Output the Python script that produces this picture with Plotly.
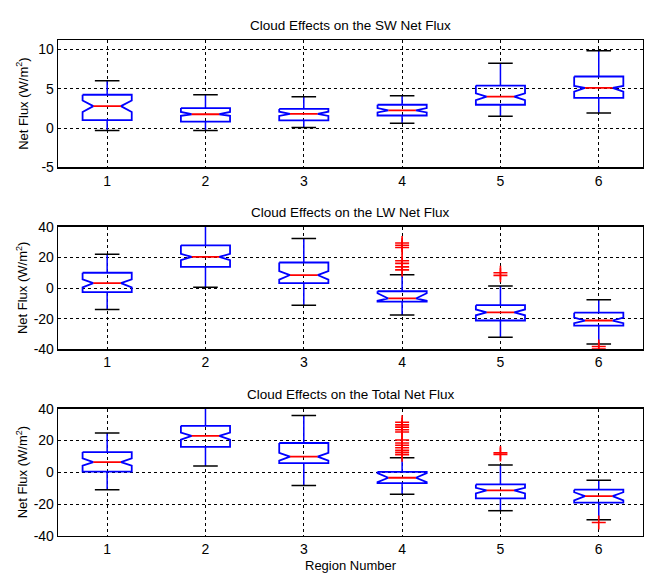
import plotly.graph_objects as go

regions = [1, 2, 3, 4, 5, 6]
tick_vals_sw = [-5, 0, 5, 10]
tick_vals_lw = [-40, -20, 0, 20, 40]
titles = ["Cloud Effects on the SW Net Flux",
          "Cloud Effects on the LW Net Flux",
          "Cloud Effects on the Total Net Flux"]

# SW panel
sw_q1 = [1.03, 0.82, 0.99, 1.61, 2.98, 3.84]
sw_med = [2.80, 1.77, 1.82, 2.27, 4.00, 5.12]
sw_q3 = [4.25, 2.56, 2.44, 2.98, 5.41, 6.57]
sw_lo = [-0.30, -0.29, 0.08, 0.62, 1.53, 1.94]
sw_hi = [6.03, 4.26, 4.00, 4.13, 8.26, 9.83]
sw_nlo = [2.06, 1.56, 1.55, 2.00, 3.55, 4.63]
sw_nhi = [3.51, 2.06, 2.10, 2.55, 4.42, 5.37]
sw_out = [[], [], [], [], [], []]

# LW panel
lw_q1 = [-2.7, 13.8, 3.2, -8.9, -21.2, -24.5]
lw_med = [3.2, 20.3, 8.5, -6.8, -15.9, -21.2]
lw_q3 = [10.0, 27.9, 16.7, -2.1, -11.2, -16.1]
lw_lo = [-14.0, 0.6, -11.2, -17.6, -32.2, -36.6]
lw_hi = [22.0, 45.0, 32.4, 8.7, 1.27, -7.6]
lw_nlo = [0.4, 18.2, 5.5, -8.3, -17.8, -22.9]
lw_nhi = [5.7, 22.4, 11.0, -3.4, -14.0, -19.3]
lw_out = [[], [], [],
          [29.4, 27.9, 26.5, 17.8, 16.1, 13.8, 11.9],
          [10.0, 8.3],
          [-38.2, -39.8]]

# Total panel
tot_q1 = [0.5, 16.0, 5.8, -6.8, -16.4, -19.0]
tot_med = [6.4, 22.9, 9.9, -3.4, -11.3, -15.0]
tot_q3 = [12.7, 29.2, 18.4, 0.3, -7.6, -10.9]
tot_lo = [-10.9, 4.0, -8.2, -13.7, -24.1, -29.8]
tot_hi = [24.7, 45.0, 35.7, 9.1, 4.6, -5.0]
tot_nlo = [4.2, 20.5, 7.4, -6.2, -13.3, -17.6]
tot_nhi = [8.7, 24.9, 12.3, -0.5, -9.7, -12.5]
tot_out = [[], [], [],
           [31.4, 29.8, 28.4, 26.7, 25.3, 20.3, 18.4, 17.0, 15.4, 13.9, 12.5, 11.1],
           [12.2, 11.2],
           [-31.5]]

panels = [
    (sw_q1, sw_med, sw_q3, sw_lo, sw_hi, sw_nlo, sw_nhi, sw_out, [-5, 11.2], tick_vals_sw),
    (lw_q1, lw_med, lw_q3, lw_lo, lw_hi, lw_nlo, lw_nhi, lw_out, [-40, 40], tick_vals_lw),
    (tot_q1, tot_med, tot_q3, tot_lo, tot_hi, tot_nlo, tot_nhi, tot_out, [-40, 40], tick_vals_lw),
]

W, H = 645, 580
# panel pixel extents (top, bottom)
pix = [(33, 164), (225, 351), (412, 543)]
domains = [[1 - b / H, 1 - t / H] for (t, b) in pix]

HW = 0.25   # box half width
NW = 0.14   # notch half width at median
CW = 0.125  # cap half width
BLUE = "#0000FF"
RED = "#FF0000"
FONT = "Liberation Sans"

fig = go.Figure()
for p, (q1, med, q3, lo, hi, nlo, nhi, outs, yr, tv) in enumerate(panels):
    xa = "x" if p == 0 else f"x{p+1}"
    ya = "y" if p == 0 else f"y{p+1}"
    bx, by, wx, wy, cx, cy, mx, my, ox, oy = [], [], [], [], [], [], [], [], [], []
    for i, c in enumerate(regions):
        bx += [c - HW, c + HW, c + HW, c + NW, c + HW, c + HW, c - HW, c - HW, c - NW, c - HW, c - HW, None]
        by += [q3[i], q3[i], nhi[i], med[i], nlo[i], q1[i], q1[i], nlo[i], med[i], nhi[i], q3[i], None]
        wx += [c, c, None, c, c, None]
        wy += [q3[i], hi[i], None, q1[i], lo[i], None]
        cx += [c - CW, c + CW, None, c - CW, c + CW, None]
        cy += [hi[i], hi[i], None, lo[i], lo[i], None]
        mx += [c - NW, c + NW, None]
        my += [med[i], med[i], None]
        for v in outs[i]:
            ox.append(c)
            oy.append(v)
    fig.add_trace(go.Scatter(x=wx, y=wy, mode="lines", line=dict(color=BLUE, width=1.5),
                             xaxis=xa, yaxis=ya, showlegend=False, hoverinfo="skip"))
    fig.add_trace(go.Scatter(x=cx, y=cy, mode="lines", line=dict(color="black", width=1.5),
                             xaxis=xa, yaxis=ya, showlegend=False, hoverinfo="skip"))
    fig.add_trace(go.Scatter(x=bx, y=by, mode="lines", line=dict(color=BLUE, width=1.8),
                             xaxis=xa, yaxis=ya, showlegend=False, hoverinfo="skip"))
    fig.add_trace(go.Scatter(x=mx, y=my, mode="lines", line=dict(color=RED, width=1.8),
                             xaxis=xa, yaxis=ya, showlegend=False, hoverinfo="skip"))
    fig.add_trace(go.Scatter(x=ox, y=oy, mode="markers",
                             marker=dict(symbol="cross-thin", size=10, line=dict(color=RED, width=1.6)),
                             xaxis=xa, yaxis=ya, showlegend=False, hoverinfo="skip"))

    axcommon = dict(showline=True, mirror=True, linecolor="black", linewidth=1.3,
                    showgrid=True, gridcolor="black", griddash="3px,3px", gridwidth=1,
                    zeroline=False, ticks="", tickfont=dict(family=FONT, size=14, color="black"))
    xkey = "xaxis" if p == 0 else f"xaxis{p+1}"
    ykey = "yaxis" if p == 0 else f"yaxis{p+1}"
    fig.update_layout(**{
        xkey: dict(axcommon, range=[0.5, 6.45], tickvals=regions, ticktext=[str(r) for r in regions],
                   anchor=ya, domain=[0, 1]),
        ykey: dict(axcommon, range=yr, tickvals=tv, ticktext=[str(v) for v in tv],
                   anchor=xa, domain=domains[p]),
    })
    fig.add_annotation(text=titles[p], xref="paper", yref="paper", x=0.5, y=domains[p][1],
                       yanchor="bottom", yshift=5, showarrow=False,
                       font=dict(family=FONT, size=13.5, color="black"))
    fig.add_annotation(text="Net Flux (W/m<sup>2</sup>)", xref="paper", yref="paper", x=0,
                       y=(domains[p][0] + domains[p][1]) / 2, xshift=-36, textangle=-90,
                       xanchor="center", yanchor="middle", showarrow=False,
                       font=dict(family=FONT, size=13, color="black"))

fig.add_annotation(text="Region Number", xref="paper", yref="paper", x=0.5, y=domains[2][0],
                   yanchor="top", yshift=-20, showarrow=False,
                   font=dict(family=FONT, size=13, color="black"))

fig.update_layout(width=W, height=H, margin=dict(l=58, r=2, t=0, b=0),
                  plot_bgcolor="white", paper_bgcolor="white")
fig.write_html("out.html", config={"displayModeBar": False, "staticPlot": True},
               post_script="document.body.style.margin='0';document.body.style.overflow='hidden';")
